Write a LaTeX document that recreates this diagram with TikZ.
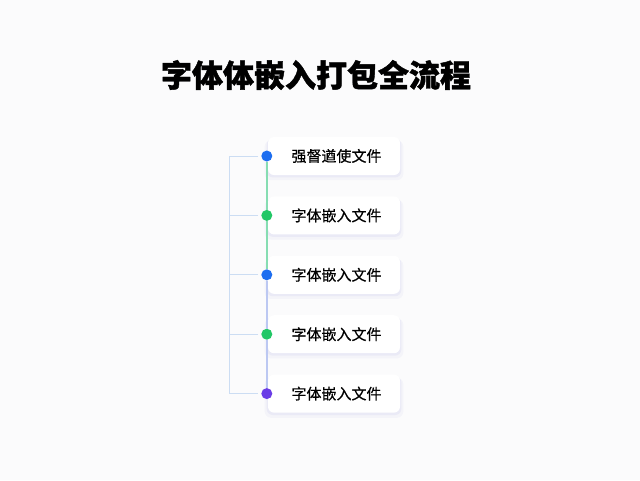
\documentclass[tikz,border=0pt]{standalone}
\usepackage{fontspec}
\newfontfamily\cjk[FakeBold=0.6]{Noto Sans CJK SC}
\newfontfamily\cjkheavy[FakeBold=1.4]{Noto Sans CJK SC}
\usetikzlibrary{positioning,calc,shadows}
\definecolor{bgcol}{HTML}{FBFBFC}
\definecolor{dblue}{HTML}{1D6EF0}
\definecolor{dgreen}{HTML}{22C766}
\definecolor{dpurple}{HTML}{6A3CE6}
\definecolor{lgreen}{HTML}{86DDB2}
\definecolor{llav}{HTML}{BCC8F2}
\definecolor{brkcol}{HTML}{CCDDF3}

\begin{document}
\begin{tikzpicture}[
    x=1pt, y=-1pt,
    node distance=21pt,
    title/.style={font=\cjkheavy\bfseries\fontsize{31}{38}\selectfont},
    card/.style={rectangle, rounded corners=6pt, fill=white, minimum width=132pt, minimum height=38pt,
        font=\cjk\fontsize{15}{18}\selectfont,
        drop shadow={shadow scale=1.05, shadow xshift=0pt, shadow yshift=-4pt, fill=blue!50!gray, opacity=0.035},
        drop shadow={shadow scale=1.02, shadow xshift=0pt, shadow yshift=-2pt, fill=blue!50!gray, opacity=0.05}},
    bullet/.style={circle, fill=#1, minimum size=11pt, inner sep=0pt},
    spine/.style={line width=1.4pt, #1},
    brk/.style={line width=0.9pt, brkcol}
]
    \fill[bgcol] (0,0) rectangle (640,480);
    \useasboundingbox (0,0) rectangle (640,480);

    \node[title] (ttl) at (316,75) {字体体嵌入打包全流程};

    \node[card] (c1) at (334,156) {\hspace{5pt}强督遒使文件};
    \node[card, below=of c1] (c2) {\hspace{5pt}字体嵌入文件};
    \node[card, below=of c2] (c3) {\hspace{5pt}字体嵌入文件};
    \node[card, below=of c3] (c4) {\hspace{5pt}字体嵌入文件};
    \node[card, below=of c4] (c5) {\hspace{5pt}字体嵌入文件};

    \node[bullet=dblue] (d1) at ($(c1.west)+(-1,0)$) {};
    \node[bullet=dgreen] (d2) at ($(c2.west)+(-1,0)$) {};
    \node[bullet=dblue] (d3) at ($(c3.west)+(-1,0)$) {};
    \node[bullet=dgreen] (d4) at ($(c4.west)+(-1,0)$) {};
    \node[bullet=dpurple] (d5) at ($(c5.west)+(-1,0)$) {};

    % spine between the bullets
    \draw[spine=lgreen] (d1) -- (d2);
    \draw[spine=lgreen] (d2) -- (d3);
    \draw[spine=llav] (d3) -- (d4);
    \draw[spine=llav] (d4) -- (d5);

    % bracket on the left
    \coordinate (b1) at ($(d1)+(-37,0)$);
    \coordinate (b5) at ($(d5)+(-37,0)$);
    \draw[brk] ($(d1.west)+(-3,0)$) -- (b1) -- (b5) -- ($(d5.west)+(-3,0)$);
    \foreach \i in {2,3,4} {
        \draw[brk] ($(d\i.west)+(-3,0)$) -- (b1 |- d\i);
    }
\end{tikzpicture}
\end{document}
